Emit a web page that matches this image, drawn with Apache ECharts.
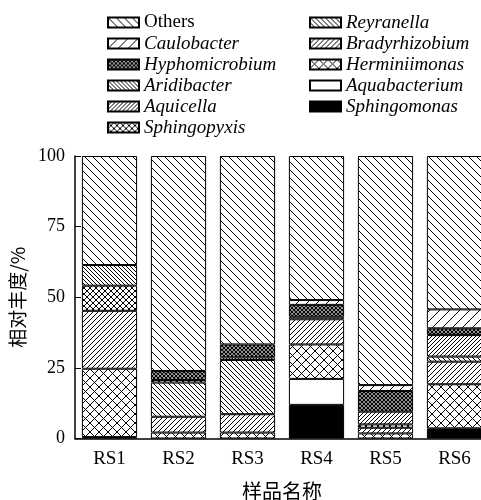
<!DOCTYPE html>
<html>
<head>
<meta charset="utf-8">
<script src="https://cdn.jsdelivr.net/npm/echarts@6/dist/echarts.min.js"></script>
<style>html,body{margin:0;padding:0;background:#fff;}#main{width:481px;height:500px;}</style>
</head>
<body>
<div id="main"></div>
<script>
// ---- data (percent relative abundance) ----
const categories = ['RS1', 'RS2', 'RS3', 'RS4', 'RS5', 'RS6'];
const yTicks = [0, 25, 50, 75, 100];
const sphingomonas   = [0.5, 0, 0, 11.9, 0, 3.6];
const aquabacterium  = [0, 0, 0, 9.2, 0, 0];
const herminiimonas  = [24.2, 2.1, 2.1, 12.2, 1.8, 15.6];
const bradyrhizobium = [20.5, 5.6, 6.5, 8.9, 2.0, 8.0];
const reyranella     = [0, 12.1, 19.2, 0, 0, 1.8];
const sphingopyxis   = [8.9, 0.9, 0.9, 0, 1.2, 0];
const aquicella      = [0, 0, 0, 0.9, 4.5, 7.6];
const aridibacter    = [7.3, 0, 0, 0, 0, 0];
const hyphomicrobium = [0, 3.2, 4.6, 4.2, 7.3, 2.4];
const caulobacter    = [0, 0, 0, 1.7, 2.1, 6.7];
const others         = [38.6, 76.1, 66.7, 51.0, 81.1, 54.3];

// ---- patterns ----
function hatch(size, dirs, lw) {
  const c = document.createElement('canvas');
  c.width = c.height = size;
  const g = c.getContext('2d');
  g.fillStyle = '#fff'; g.fillRect(0, 0, size, size);
  g.strokeStyle = '#000'; g.lineWidth = lw || 1;
  g.beginPath();
  if (dirs.indexOf('/') >= 0) {
    g.moveTo(0, size); g.lineTo(size, 0);
    g.moveTo(-1, 1); g.lineTo(1, -1);
    g.moveTo(size - 1, size + 1); g.lineTo(size + 1, size - 1);
  }
  if (dirs.indexOf('\\') >= 0) {
    g.moveTo(0, 0); g.lineTo(size, size);
    g.moveTo(-1, size - 1); g.lineTo(1, size + 1);
    g.moveTo(size - 1, -1); g.lineTo(size + 1, 1);
  }
  g.stroke();
  return { image: c, repeat: 'repeat' };
}
const pat = {
  Others: hatch(8, '\\', 1),
  Reyranella: hatch(5, '\\', 1),
  Caulobacter: hatch(10, '/', 1),
  Bradyrhizobium: hatch(5, '/', 1),
  Hyphomicrobium: hatch(4, '/\\', 1.3),
  Herminiimonas: hatch(9, '/\\', 1),
  Aridibacter: hatch(4, '\\', 1),
  Aquabacterium: '#ffffff',
  Aquicella: hatch(4, '/', 1),
  Sphingomonas: '#000000',
  Sphingopyxis: hatch(6, '/\\', 1)
};

const stackOrder = [
  ['Sphingomonas', sphingomonas],
  ['Aquabacterium', aquabacterium],
  ['Herminiimonas', herminiimonas],
  ['Bradyrhizobium', bradyrhizobium],
  ['Reyranella', reyranella],
  ['Sphingopyxis', sphingopyxis],
  ['Aquicella', aquicella],
  ['Aridibacter', aridibacter],
  ['Hyphomicrobium', hyphomicrobium],
  ['Caulobacter', caulobacter],
  ['Others', others]
];

const series = stackOrder.map(function (s) {
  return {
    name: s[0],
    type: 'bar',
    stack: 'total',
    barWidth: '80%',
    data: s[1].map(function (v) { return v === 0 ? '-' : v; }),
    itemStyle: { color: pat[s[0]], borderColor: '#000', borderWidth: 1 }
  };
});

const serif = 'Liberation Serif, Times New Roman, serif';
function legendItem(n) {
  return { name: n, textStyle: { fontStyle: n === 'Others' ? 'normal' : 'italic' } };
}
const legendCol1 = ['Others', 'Caulobacter', 'Hyphomicrobium', 'Aridibacter', 'Aquicella', 'Sphingopyxis'];
const legendCol2 = ['Reyranella', 'Bradyrhizobium', 'Herminiimonas', 'Aquabacterium', 'Sphingomonas'];
const legendCommon = {
  orient: 'vertical', top: 12, padding: 0, itemGap: 0,
  itemWidth: 31, itemHeight: 10, selectedMode: false, icon: 'rect',
  textStyle: { fontFamily: serif, fontSize: 19, color: '#000', lineHeight: 21 }
};

const chart = echarts.init(document.getElementById('main'), null, { renderer: 'canvas' });
chart.setOption({
  animation: false,
  backgroundColor: '#fff',
  legend: [
    Object.assign({ left: 107, data: legendCol1.map(legendItem) }, legendCommon),
    Object.assign({ left: 309, data: legendCol2.map(legendItem) }, legendCommon)
  ],
  grid: { left: 75, top: 156, width: 414, bottom: 61.5, outerBoundsMode: 'none', containLabel: false },
  xAxis: {
    type: 'category',
    data: categories,
    axisLine: { lineStyle: { color: '#000', width: 1.5 } },
    axisTick: { show: false },
    axisLabel: { color: '#000', fontFamily: serif, fontSize: 19, margin: 11 },
    name: '样品名称',
    nameLocation: 'middle',
    nameGap: 43,
    nameTextStyle: { fontFamily: 'Noto Sans CJK SC', fontSize: 20, color: '#000' }
  },
  yAxis: {
    type: 'value',
    min: yTicks[0], max: yTicks[yTicks.length - 1], interval: 25,
    axisLine: { show: true, lineStyle: { color: '#000', width: 1.5 } },
    axisTick: { show: true, inside: true, length: 6, lineStyle: { color: '#000', width: 1 } },
    splitLine: { show: false },
    axisLabel: { color: '#000', fontFamily: serif, fontSize: 18, margin: 10 },
    name: '相对丰度/%',
    nameLocation: 'middle',
    nameGap: 44,
    nameRotate: 90,
    nameTextStyle: { fontFamily: 'Noto Sans CJK SC', fontSize: 19, color: '#000' }
  },
  series: series
});
</script>
</body>
</html>
